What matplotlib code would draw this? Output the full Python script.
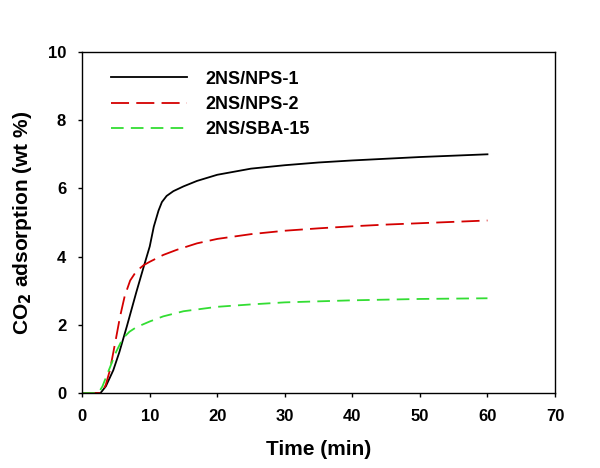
import matplotlib.pyplot as plt

plt.rcParams['font.family'] = ['Liberation Sans', 'DejaVu Sans']
plt.rcParams['font.weight'] = 'bold'

# values
t_nps1 = [0, 2.7, 3.5, 4.6, 5.5, 6.6, 8, 9.1, 10, 10.6, 11.3, 11.8, 12.5, 13.5, 15, 17, 20, 25, 30, 35, 40, 45, 50, 55, 60]
q_nps1 = [0, 0, 0.2, 0.67, 1.2, 1.95, 2.95, 3.7, 4.3, 4.88, 5.35, 5.6, 5.78, 5.92, 6.06, 6.22, 6.4, 6.58, 6.68, 6.76, 6.82, 6.87, 6.92, 6.96, 7.0]

t_nps2 = [0, 2.9, 3.5, 4.1, 5, 5.6, 6.3, 7.1, 8, 9.1, 10, 12, 14, 17, 20, 25, 30, 35, 40, 45, 50, 55, 60]
q_nps2 = [0, 0, 0.25, 0.67, 1.6, 2.24, 2.85, 3.3, 3.57, 3.75, 3.85, 4.05, 4.2, 4.39, 4.52, 4.66, 4.76, 4.83, 4.89, 4.94, 4.98, 5.02, 5.06]

t_sba = [0, 2.4, 3, 4, 5, 6, 7, 8, 10, 12, 15, 20, 25, 30, 40, 50, 60]
q_sba = [0, 0, 0.2, 0.7, 1.2, 1.6, 1.8, 1.93, 2.1, 2.25, 2.4, 2.53, 2.6, 2.66, 2.72, 2.76, 2.78]

fig = plt.figure(figsize=(6, 4.68), dpi=100)
ax = fig.add_axes([0.137, 0.160, 0.788, 0.729])

ax.plot(t_nps1, q_nps1, color='black', lw=1.3, label='2NS/NPS-1')
ax.plot(t_nps2, q_nps2, color='#d40000', lw=1.3, dashes=(10, 4), label='2NS/NPS-2')
ax.plot(t_sba, q_sba, color='#33dd33', lw=1.3, dashes=(7, 4), label='2NS/SBA-15')

ax.set_xlim(0, 70)
ax.set_ylim(0, 10)
ax.set_xticks(range(0, 71, 10))
ax.set_yticks(range(0, 11, 2))
ax.tick_params(direction='out', length=3, width=1, labelsize=12, pad=8.5)
for s in ax.spines.values():
    s.set_linewidth(1)

ax.set_xlabel('Time (min)', fontsize=15, fontweight='bold')
ax.set_ylabel('CO$_\\mathbf{2}$ adsorption (wt %)', fontsize=15, fontweight='bold')
ax.xaxis.set_label_coords(0.5, -0.138)
ax.yaxis.set_label_coords(-0.101, 0.5)

ax.legend(loc='upper left', frameon=False, fontsize=13, handlelength=4.2,
          handletextpad=1.0, borderpad=0, borderaxespad=0,
          bbox_to_anchor=(0.061, 0.945), labelspacing=0.45)

plt.savefig('out.png', dpi=100)
